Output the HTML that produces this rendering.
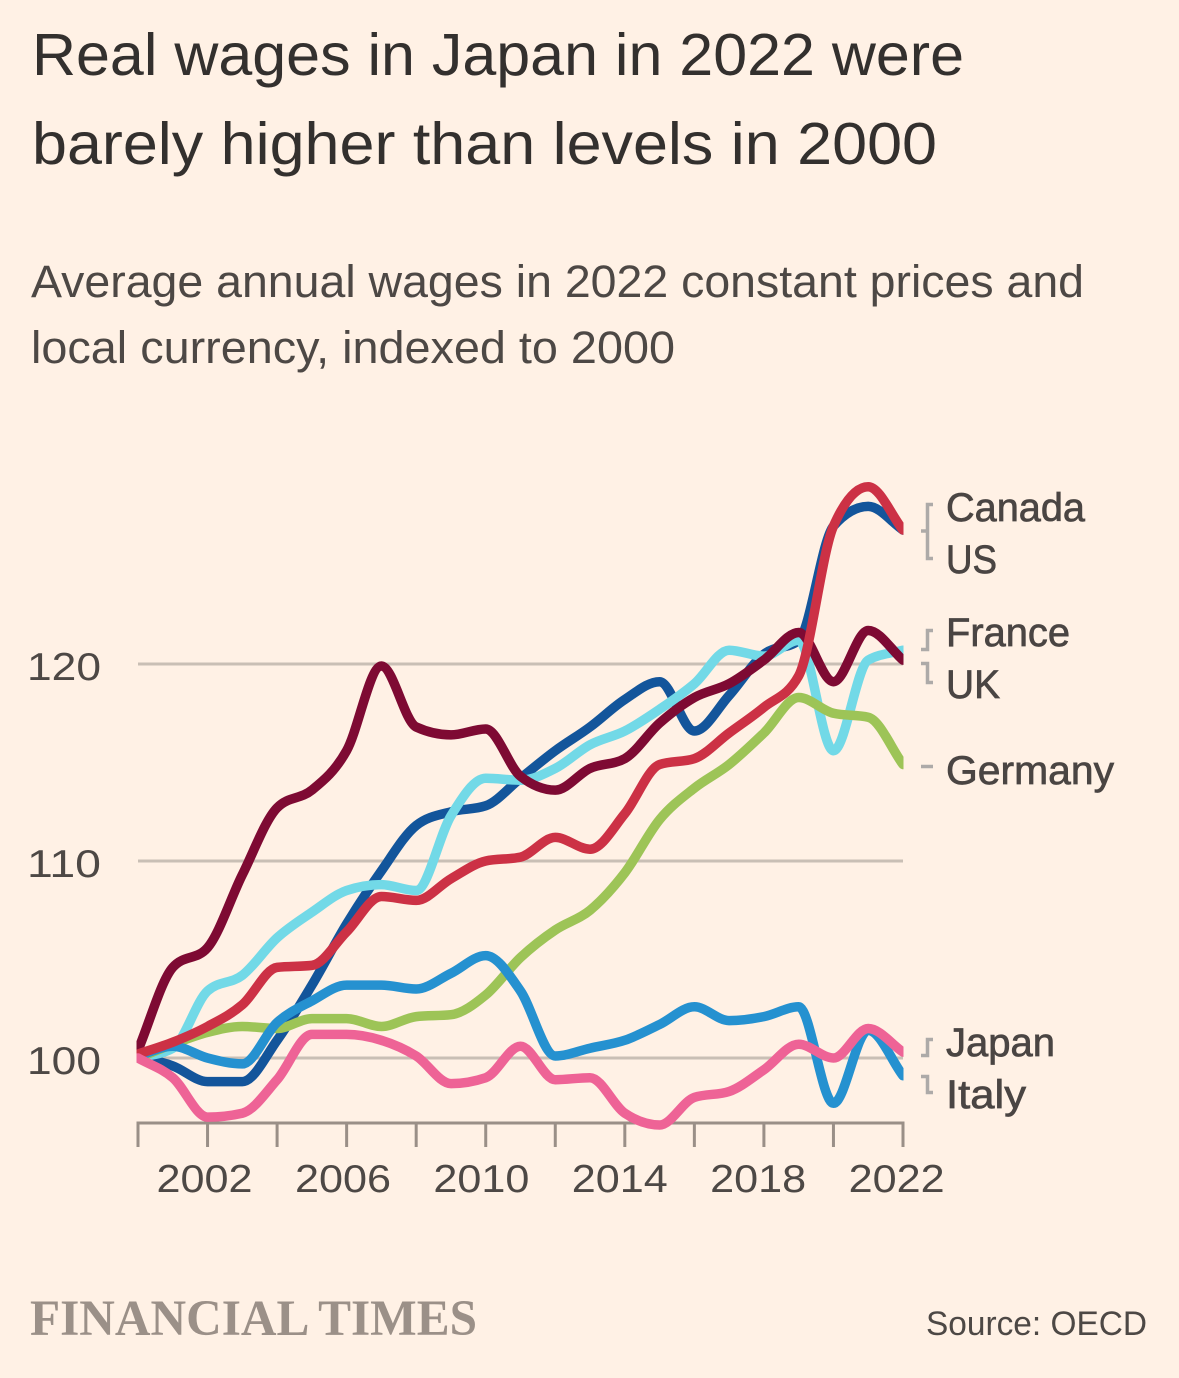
<!DOCTYPE html>
<html lang="en">
<head>
<meta charset="utf-8">
<title>Real wages in Japan</title>
<style>
html,body{margin:0;padding:0;background:#fff1e5;width:1179px;height:1378px;overflow:hidden}
svg{display:block}
text{font-family:"Liberation Sans",sans-serif}
</style>
</head>
<body>
<svg id="chart" xmlns="http://www.w3.org/2000/svg" width="1179" height="1378" viewBox="0 0 1179 1378">
  <rect width="1179" height="1378" fill="#fff1e5"/>
  <g fill="#33302e" font-size="59">
    <text x="32" y="75" textLength="932" lengthAdjust="spacingAndGlyphs">Real wages in Japan in 2022 were</text>
    <text x="32" y="164" textLength="905" lengthAdjust="spacingAndGlyphs">barely higher than levels in 2000</text>
  </g>
  <g fill="#4d4845" font-size="45">
    <text x="31" y="297" textLength="1053" lengthAdjust="spacingAndGlyphs">Average annual wages in 2022 constant prices and</text>
    <text x="31" y="363" textLength="644" lengthAdjust="spacingAndGlyphs">local currency, indexed to 2000</text>
  </g>
  <defs><clipPath id="plot-clip"><rect x="136.5" y="440" width="767" height="720"/></clipPath></defs>
  <g id="grid"></g>
  <g id="yticks"></g>
  <g id="xaxis"></g>
  <g id="lines" clip-path="url(#plot-clip)"></g>
  <g fill="none" stroke="#adaaa8" stroke-width="3.5">
    <path d="M933 504.5H927.5V558.5H933M921 531H927.5"/>
    <path d="M933 630.5H927.5V649.5H921"/>
    <path d="M921 663.5H927.5V682.5H933"/>
    <path d="M921 766.5H933"/>
    <path d="M933 1039.5H927.5V1055.5H921"/>
    <path d="M921 1076.5H927.5V1092.5H933"/>
  </g>
  <g fill="#4a4543" font-size="40" stroke="#4a4543" stroke-width="0.7">
    <text x="946" y="521" textLength="139" lengthAdjust="spacingAndGlyphs">Canada</text>
    <text x="946" y="573" textLength="51" lengthAdjust="spacingAndGlyphs">US</text>
    <text x="946" y="646" textLength="124" lengthAdjust="spacingAndGlyphs">France</text>
    <text x="946" y="698" textLength="54" lengthAdjust="spacingAndGlyphs">UK</text>
    <text x="946" y="784" textLength="168" lengthAdjust="spacingAndGlyphs">Germany</text>
    <text x="946" y="1056" textLength="109" lengthAdjust="spacingAndGlyphs">Japan</text>
    <text x="946" y="1108" textLength="80" lengthAdjust="spacingAndGlyphs">Italy</text>
  </g>
  <text x="30" y="1335" font-size="51" font-weight="700" fill="#9b9088" textLength="447" lengthAdjust="spacingAndGlyphs" style="font-family:'Liberation Serif',serif">FINANCIAL TIMES</text>
  <text x="926" y="1335" font-size="34" fill="#4d4845" textLength="221" lengthAdjust="spacingAndGlyphs">Source: OECD</text>
</svg>
<script>
const years = [2000,2001,2002,2003,2004,2005,2006,2007,2008,2009,2010,2011,2012,2013,2014,2015,2016,2017,2018,2019,2020,2021,2022];
const yTickValues = [100,110,120];
const xTickYears = [2000,2002,2004,2006,2008,2010,2012,2014,2016,2018,2020,2022];
const xLabelYears = [2002,2006,2010,2014,2018,2022];
const usValues = [100.1,99.6,98.8,98.8,100.9,103.7,106.8,109.5,111.8,112.5,112.8,114.2,115.6,116.8,118.2,119.1,116.6,118.4,120.5,121.2,127,128,126.8];
const ukValues = [100,100.5,103.4,104.2,106.1,107.4,108.5,108.8,108.5,112.3,114.2,114.1,114.7,115.9,116.6,117.7,119,120.7,120.4,121.2,115.6,120.2,120.7];
const germanyValues = [100,100.7,101.3,101.6,101.5,102,102,101.6,102.1,102.2,103.2,105.1,106.5,107.5,109.4,112.1,113.7,114.9,116.5,118.3,117.5,117.3,114.9];
const franceValues = [100.4,104.6,105.6,109.3,112.7,113.6,115.6,119.9,116.8,116.4,116.7,114.3,113.6,114.7,115.2,117,118.3,119,120.2,121.6,119.1,121.7,120.2];
const japanValues = [100.1,100.6,100,99.7,101.8,102.9,103.7,103.7,103.5,104.3,105.2,103.4,100.1,100.5,100.9,101.7,102.6,101.9,102.1,102.6,97.7,101.4,99.1];
const canadaValues = [100.2,100.8,101.6,102.7,104.6,104.7,106.4,108.2,108,109.1,110,110.2,111.2,110.6,112.4,114.9,115.2,116.5,117.8,119.4,127,129,126.8];
const italyValues = [100,99,97,97.2,98.9,101.2,101.2,100.9,100.1,98.7,99,100.6,98.9,99,97.2,96.6,98,98.3,99.4,100.7,100,101.5,100.3];

const NS = 'http://www.w3.org/2000/svg';
const xScale = y => 138 + (y - 2000) * (903 - 138) / 22;
const yScale = v => 1058 - (v - 100) * 19.7;

function monotonePath(xs, ys) {
  const n = xs.length, d = [], m = [];
  for (let i = 0; i < n - 1; i++) d.push((ys[i + 1] - ys[i]) / (xs[i + 1] - xs[i]));
  m[0] = d[0];
  m[n - 1] = d[n - 2];
  for (let i = 1; i < n - 1; i++) {
    if (d[i - 1] * d[i] <= 0) { m[i] = 0; continue; }
    const a = Math.abs(d[i - 1]), b = Math.abs(d[i]);
    m[i] = Math.sign(d[i]) * Math.min(a, b, (a + b) / 4) * 2;
  }
  let s = 'M' + xs[0].toFixed(1) + ' ' + ys[0].toFixed(1);
  for (let i = 0; i < n - 1; i++) {
    const h = (xs[i + 1] - xs[i]) / 3;
    s += 'C' + (xs[i] + h).toFixed(1) + ' ' + (ys[i] + m[i] * h).toFixed(1) + ' ' +
         (xs[i + 1] - h).toFixed(1) + ' ' + (ys[i + 1] - m[i + 1] * h).toFixed(1) + ' ' +
         xs[i + 1].toFixed(1) + ' ' + ys[i + 1].toFixed(1);
  }
  return s;
}
function make(tag, parent, attrs) {
  const el = document.createElementNS(NS, tag);
  for (const k in attrs) el.setAttribute(k, attrs[k]);
  parent.appendChild(el);
  return el;
}

const grid = document.getElementById('grid');
const yAxis = document.getElementById('yticks');
yTickValues.forEach(v => {
  const line = make('line', grid, {x1: 138, x2: 903, y1: yScale(v), y2: yScale(v), stroke: '#c9bfb5', 'stroke-width': 3});
  
  
  const label = make('text', yAxis, {x: 27, y: yScale(v) + 16, 'font-size': 39, fill: '#4d4845', textLength: 74, lengthAdjust: 'spacingAndGlyphs'});
  label.textContent = v;
  
  
});

const xAxis = document.getElementById('xaxis');
const axisBase = make('line', xAxis, {x1: xScale(2000) - 1.5, x2: xScale(2022) + 1.5, y1: 1123, y2: 1123, stroke: '#9a8f87', 'stroke-width': 3});


xTickYears.forEach(y => {
  const tick = make('line', xAxis, {x1: xScale(y), x2: xScale(y), y1: 1122, y2: 1147, stroke: '#9a8f87', 'stroke-width': 3});
  
  
});
xLabelYears.forEach(y => {
  const label = make('text', xAxis, {x: xScale(y) - 3 - (y - 2002) * 0.17, y: 1192, 'font-size': 39, fill: '#4d4845', 'text-anchor': 'middle', textLength: 96, lengthAdjust: 'spacingAndGlyphs'});
  label.textContent = y;
  
  
});

const linesGroup = document.getElementById('lines');
function drawSeries(name, values, color) {
  const path = make('path', linesGroup, {
    d: monotonePath(years.map(xScale), values.map(yScale)),
    fill: 'none', stroke: color, 'stroke-width': 9.5, 'stroke-linejoin': 'round', 'stroke-linecap': 'round'
  });
  
  
}
drawSeries('us', usValues, '#13559b');
drawSeries('uk', ukValues, '#72d9e7');
drawSeries('germany', germanyValues, '#9dc457');
drawSeries('france', franceValues, '#7e0a33');
drawSeries('japan', japanValues, '#2591d0');
drawSeries('canada', canadaValues, '#cc3145');
drawSeries('italy', italyValues, '#ee6396');
</script>
</body>
</html>
